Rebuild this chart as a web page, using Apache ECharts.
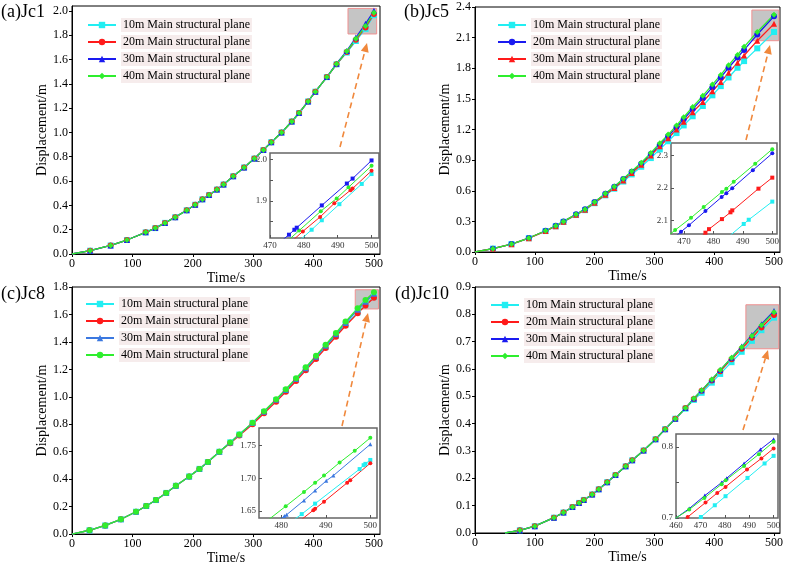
<!DOCTYPE html>
<html>
<head>
<meta charset="utf-8">
<script src="https://cdn.jsdelivr.net/npm/echarts@6/dist/echarts.min.js"></script>
<style>
html, body { margin: 0; padding: 0; background: #fff; }
#chart { width: 786px; height: 566px; }
</style>
</head>
<body>
<div id="chart"></div>
<script>
// series names, same in every panel
var names = ['10m Main structural plane', '20m Main structural plane', '30m Main structural plane', '40m Main structural plane'];
var xTicks = [0, 100, 200, 300, 400, 500];

// (a) Jc1
var timeA = [0, 30, 64, 91, 122, 138, 154, 171, 190, 204, 216, 227, 240, 251, 267, 285, 302, 317, 330, 347, 364, 376, 391, 403, 422, 438, 455, 470, 486, 500];
var a10 = [0, 0.027, 0.07, 0.115, 0.178, 0.213, 0.256, 0.303, 0.36, 0.405, 0.45, 0.485, 0.53, 0.572, 0.64, 0.712, 0.785, 0.855, 0.92, 1.0, 1.09, 1.16, 1.255, 1.335, 1.455, 1.56, 1.657, 1.752, 1.852, 1.965];
var a20 = [0, 0.027, 0.07, 0.115, 0.178, 0.213, 0.256, 0.303, 0.36, 0.405, 0.45, 0.485, 0.53, 0.572, 0.64, 0.712, 0.785, 0.855, 0.92, 1.0, 1.09, 1.16, 1.255, 1.335, 1.455, 1.56, 1.662, 1.762, 1.864, 1.974];
var a30 = [0, 0.027, 0.07, 0.115, 0.178, 0.213, 0.256, 0.303, 0.36, 0.405, 0.45, 0.485, 0.53, 0.572, 0.64, 0.712, 0.785, 0.855, 0.92, 1.0, 1.09, 1.16, 1.255, 1.335, 1.455, 1.565, 1.67, 1.78, 1.893, 2.0];
var a40 = [0, 0.027, 0.07, 0.115, 0.178, 0.213, 0.256, 0.303, 0.36, 0.405, 0.45, 0.485, 0.53, 0.572, 0.64, 0.712, 0.785, 0.855, 0.92, 1.0, 1.09, 1.16, 1.255, 1.335, 1.455, 1.562, 1.667, 1.77, 1.876, 1.985];
var yTicksA = [0, 0.2, 0.4, 0.6, 0.8, 1.0, 1.2, 1.4, 1.6, 1.8, 2.0];
// (a) zoomed
var aZt10 = [470, 482.3, 485.3, 490.5, 497.1, 500];
var aZv10 = [1.74, 1.830, 1.853, 1.892, 1.941, 1.965];
var aZt20 = [470, 479.7, 484.8, 489.0, 493.8, 494.4, 500];
var aZv20 = [1.755, 1.826, 1.861, 1.894, 1.926, 1.930, 1.973];
var aZt30 = [470, 475.6, 477.2, 477.9, 485.3, 492.7, 494.4, 500];
var aZv30 = [1.78, 1.818, 1.830, 1.835, 1.889, 1.942, 1.954, 1.998];
var aZt40 = [470, 478.6, 485.0, 489.7, 493.2, 500];
var aZv40 = [1.765, 1.828, 1.875, 1.906, 1.933, 1.985];

// (b) Jc5
var timeB = [0, 30, 61, 90, 118, 135, 148, 169, 184, 200, 218, 233, 248, 262, 278, 294, 309, 323, 337, 349, 364, 381, 397, 411, 424, 439, 450, 472, 500];
var b10 = [0, 0.033, 0.077, 0.135, 0.205, 0.252, 0.295, 0.362, 0.41, 0.478, 0.555, 0.62, 0.69, 0.76, 0.835, 0.92, 1.005, 1.085, 1.165, 1.24, 1.33, 1.43, 1.535, 1.625, 1.71, 1.805, 1.87, 1.995, 2.155];
var b20 = [0, 0.033, 0.078, 0.137, 0.208, 0.257, 0.3, 0.37, 0.42, 0.49, 0.57, 0.64, 0.715, 0.785, 0.865, 0.96, 1.05, 1.135, 1.222, 1.3, 1.4, 1.505, 1.615, 1.71, 1.805, 1.905, 1.98, 2.13, 2.31];
var b30 = [0, 0.033, 0.077, 0.135, 0.205, 0.253, 0.297, 0.365, 0.413, 0.482, 0.56, 0.628, 0.7, 0.775, 0.855, 0.945, 1.035, 1.115, 1.2, 1.275, 1.37, 1.47, 1.575, 1.665, 1.755, 1.855, 1.925, 2.07, 2.235];
var b40 = [0, 0.033, 0.078, 0.137, 0.208, 0.257, 0.3, 0.37, 0.42, 0.49, 0.572, 0.642, 0.717, 0.79, 0.875, 0.97, 1.065, 1.15, 1.24, 1.32, 1.42, 1.53, 1.64, 1.735, 1.83, 1.93, 2.01, 2.155, 2.325];
var yTicksB = [0, 0.3, 0.6, 0.9, 1.2, 1.5, 1.8, 2.1, 2.4];
var bZt10 = [480, 490.3, 492, 500];
var bZv10 = [2.01, 2.089, 2.102, 2.158];
var bZt20 = [460, 469, 471.7, 477.3, 482.8, 484.4, 486.4, 493.4, 500];
var bZv20 = [1.995, 2.065, 2.085, 2.129, 2.172, 2.184, 2.199, 2.255, 2.307];
var bZt30 = [470, 477.3, 478.5, 482.9, 485.8, 486.4, 495.3, 500];
var bZv30 = [2.005, 2.062, 2.073, 2.104, 2.125, 2.131, 2.198, 2.232];
var bZt40 = [460, 467, 472.4, 476.7, 482.9, 484.4, 486.9, 494.2, 500];
var bZv40 = [2.02, 2.070, 2.108, 2.141, 2.188, 2.198, 2.219, 2.275, 2.32];

// (c) Jc8
var timeC = [0, 29, 55, 81, 106, 123, 139, 156, 172, 194, 211, 225, 244, 262, 277, 299, 318, 338, 354, 371, 387, 404, 420, 437, 453, 473, 486, 500];
var c10 = [0, 0.028, 0.063, 0.108, 0.163, 0.205, 0.248, 0.3, 0.352, 0.42, 0.475, 0.525, 0.6, 0.668, 0.725, 0.81, 0.89, 0.975, 1.047, 1.125, 1.2, 1.283, 1.362, 1.445, 1.525, 1.615, 1.672, 1.728];
var c20 = [0, 0.028, 0.063, 0.108, 0.163, 0.205, 0.248, 0.3, 0.352, 0.42, 0.475, 0.525, 0.6, 0.662, 0.718, 0.8, 0.88, 0.965, 1.037, 1.115, 1.193, 1.275, 1.355, 1.438, 1.518, 1.608, 1.665, 1.722];
var c30 = [0, 0.028, 0.063, 0.108, 0.163, 0.205, 0.248, 0.3, 0.352, 0.42, 0.475, 0.525, 0.6, 0.668, 0.725, 0.81, 0.892, 0.978, 1.05, 1.13, 1.208, 1.292, 1.372, 1.455, 1.538, 1.635, 1.693, 1.751];
var c40 = [0, 0.028, 0.063, 0.108, 0.163, 0.205, 0.248, 0.3, 0.352, 0.42, 0.475, 0.525, 0.6, 0.668, 0.725, 0.812, 0.895, 0.982, 1.055, 1.135, 1.215, 1.3, 1.38, 1.465, 1.548, 1.645, 1.705, 1.762];
var yTicksC = [0, 0.2, 0.4, 0.6, 0.8, 1.0, 1.2, 1.4, 1.6, 1.8];
var cZt10 = [478, 484.6, 487.6, 497.6, 498.5, 498.9, 500];
var cZv10 = [1.612, 1.645, 1.661, 1.714, 1.720, 1.722, 1.728];
var cZt20 = [480, 487.2, 487.6, 489.6, 494.8, 495.5, 500];
var cZv20 = [1.612, 1.651, 1.653, 1.664, 1.693, 1.697, 1.723];
var cZt30 = [475, 480.7, 481.2, 485.1, 487.6, 490.1, 491.7, 500];
var cZv30 = [1.612, 1.642, 1.644, 1.666, 1.681, 1.696, 1.704, 1.752];
var cZt40 = [475, 481.0, 485.1, 487.6, 489.6, 493.1, 496.5, 500];
var cZv40 = [1.625, 1.657, 1.679, 1.693, 1.704, 1.724, 1.742, 1.762];

// (d) Jc10
var timeD = [50, 75, 100, 132, 148, 163, 174, 182, 196, 207, 221, 235, 252, 263, 282, 302, 318, 335, 352, 366, 379, 396, 410, 429, 446, 463, 479, 500];
var d10 = [0, 0.01, 0.025, 0.056, 0.075, 0.095, 0.11, 0.121, 0.141, 0.16, 0.186, 0.212, 0.244, 0.266, 0.302, 0.343, 0.38, 0.418, 0.455, 0.487, 0.513, 0.55, 0.582, 0.625, 0.663, 0.703, 0.742, 0.788];
var d20 = [0, 0.01, 0.025, 0.056, 0.075, 0.095, 0.11, 0.121, 0.141, 0.16, 0.186, 0.212, 0.244, 0.266, 0.302, 0.343, 0.38, 0.418, 0.457, 0.49, 0.52, 0.558, 0.592, 0.636, 0.674, 0.714, 0.752, 0.798];
var d30 = [0, 0.01, 0.025, 0.056, 0.075, 0.095, 0.11, 0.121, 0.141, 0.16, 0.186, 0.212, 0.244, 0.266, 0.302, 0.343, 0.38, 0.418, 0.457, 0.492, 0.522, 0.562, 0.596, 0.641, 0.682, 0.724, 0.764, 0.812];
var d40 = [0, 0.01, 0.025, 0.056, 0.075, 0.095, 0.11, 0.121, 0.141, 0.16, 0.186, 0.212, 0.244, 0.266, 0.302, 0.343, 0.38, 0.418, 0.457, 0.492, 0.522, 0.562, 0.596, 0.641, 0.68, 0.721, 0.76, 0.808];
var yTicksD = [0, 0.1, 0.2, 0.3, 0.4, 0.5, 0.6, 0.7, 0.8, 0.9];
var dZt10 = [465, 470.2, 475.9, 480.3, 489.3, 496.3, 500];
var dZv10 = [0.688, 0.7014, 0.7179, 0.7306, 0.7563, 0.7766, 0.7873];
var dZt20 = [460, 464.8, 472.1, 476.9, 480.3, 489.1, 495.0, 500];
var dZv20 = [0.689, 0.7014, 0.7217, 0.7352, 0.7437, 0.7682, 0.7837, 0.7977];
var dZt30 = [459, 465.4, 471.8, 478.7, 480.8, 487.9, 494.6, 500];
var dZv30 = [0.6975, 0.7132, 0.7315, 0.7498, 0.756, 0.7766, 0.7963, 0.8108];
var dZt40 = [459, 465.4, 471.6, 478.7, 480.4, 487.9, 494.0, 500];
var dZv40 = [0.698, 0.7118, 0.7282, 0.7475, 0.7531, 0.7732, 0.7897, 0.807];

var FONT = '"Liberation Serif", "Times New Roman", serif';
var CYAN = '#22eef2', RED = '#ff1a1a', BLUE = '#1a1af0', BLUE_C = '#3b78e0', GREEN = '#2eee2e';
var ORANGE = '#f0883c';

function pairs(t, v) {
    return t.map(function (x, i) { return [x, v[i]]; });
}

function mainLine(key, idx, gi, t, v, color, symbol, area) {
    var data = pairs(t, v);
    data[0] = { value: data[0], symbol: 'none' };
    var s = {
        type: 'line', name: key + names[idx], xAxisIndex: gi, yAxisIndex: gi,
        data: data, symbol: symbol, symbolSize: 6, showAllSymbol: true,
        lineStyle: { width: 1.3, color: color }, itemStyle: { color: color }
    };
    if (area) {
        s.markArea = {
            silent: true,
            itemStyle: { color: 'rgba(140,140,140,0.5)', borderColor: '#f09090', borderWidth: 1 },
            data: [[{ coord: area[0] }, { coord: area[1] }]]
        };
    }
    return s;
}

function zoomLine(gi, t, v, color, symbol) {
    return {
        type: 'line', name: 'z' + gi + color, xAxisIndex: gi, yAxisIndex: gi,
        data: pairs(t, v), symbol: symbol, symbolSize: 4, showAllSymbol: true, clip: true,
        lineStyle: { width: 1, color: color }, itemStyle: { color: color }
    };
}

function mainX(gi) {
    return {
        type: 'value', gridIndex: gi, min: 0, max: 510,
        name: 'Time/s', nameLocation: 'middle', nameGap: 14,
        nameTextStyle: { fontFamily: FONT, fontSize: 14, color: '#000' },
        axisLine: { show: true, lineStyle: { color: '#000', width: 1 } },
        axisTick: { show: true, length: 3, customValues: xTicks, lineStyle: { color: '#000' } },
        axisLabel: { customValues: xTicks, fontFamily: FONT, fontSize: 12, color: '#000', margin: 4 },
        splitLine: { show: false }
    };
}

function mainY(gi, max, ticks) {
    return {
        type: 'value', gridIndex: gi, min: 0, max: max,
        name: 'Displacement/m', nameLocation: 'middle', nameGap: 21,
        nameTextStyle: { fontFamily: FONT, fontSize: 14, color: '#000' },
        axisLine: { show: true, lineStyle: { color: '#000', width: 1 } },
        axisTick: { show: true, length: 3, customValues: ticks, lineStyle: { color: '#000' } },
        axisLabel: {
            customValues: ticks, fontFamily: FONT, fontSize: 12, color: '#000', margin: 4,
            formatter: function (v) { return v.toFixed(1); }
        },
        splitLine: { show: false }
    };
}

function zoomAxis(gi, min, max, labels, ticks, digits) {
    return {
        type: 'value', gridIndex: gi, min: min, max: max,
        axisLine: { show: false },
        axisTick: { show: true, inside: true, length: 3, customValues: ticks, lineStyle: { color: '#555' } },
        axisLabel: {
            customValues: labels, fontFamily: FONT, fontSize: 9, color: '#333', margin: 3,
            formatter: function (v) { return v.toFixed(digits); }
        },
        splitLine: { show: false }
    };
}

function legend(key, left, top) {
    return {
        orient: 'vertical', left: left, top: top, itemWidth: 28, itemHeight: 8, itemGap: 3,
        data: names.map(function (n) { return key + n; }),
        formatter: function (n) { return n.slice(2); },
        textStyle: {
            fontFamily: FONT, fontSize: 12, color: '#000', lineHeight: 14,
            backgroundColor: 'rgba(235,212,212,0.45)', padding: [0, 2]
        }
    };
}

function arrow(x1, y1, x2, y2) {
    var dx = x2 - x1, dy = y2 - y1, L = Math.sqrt(dx * dx + dy * dy);
    var ux = dx / L, uy = dy / L, h = 9, w = 4;
    var bx = x2 - ux * h, by = y2 - uy * h;
    return [
        { type: 'line', shape: { x1: x1, y1: y1, x2: bx, y2: by }, style: { stroke: ORANGE, lineWidth: 1.6, lineDash: [6, 4] } },
        { type: 'polygon', shape: { points: [[x2, y2], [bx - uy * w, by + ux * w], [bx + uy * w, by - ux * w]] }, style: { fill: ORANGE } }
    ];
}

function label(text, x, y) {
    return { type: 'text', left: x, top: y, style: { text: text, font: '18px ' + FONT, fill: '#000' } };
}

var mainGrid = { show: true, borderColor: '#000', borderWidth: 1 };
var zoomGrid = { show: true, backgroundColor: '#fff', borderColor: '#666', borderWidth: 1.5 };

var option = {
    animation: false,
    backgroundColor: '#fff',
    grid: [
        Object.assign({ left: 72, top: 6, width: 308, height: 248 }, mainGrid),
        Object.assign({ left: 270, top: 153, width: 109, height: 85 }, zoomGrid),
        Object.assign({ left: 475, top: 7, width: 306, height: 245 }, mainGrid),
        Object.assign({ left: 671, top: 143, width: 106, height: 91 }, zoomGrid),
        Object.assign({ left: 72, top: 287, width: 308, height: 248 }, mainGrid),
        Object.assign({ left: 259, top: 428, width: 118, height: 90 }, zoomGrid),
        Object.assign({ left: 475, top: 287, width: 305, height: 246 }, mainGrid),
        Object.assign({ left: 676, top: 434, width: 102, height: 84 }, zoomGrid)
    ],
    xAxis: [
        mainX(0),
        zoomAxis(1, 470, 502.2, [470, 480, 490, 500], [470, 480, 490, 500], 0),
        mainX(2),
        zoomAxis(3, 465.6, 501.6, [470, 480, 490, 500], [470, 480, 490, 500], 0),
        mainX(4),
        zoomAxis(5, 475, 501.5, [480, 490, 500], [480, 490, 500], 0),
        mainX(6),
        zoomAxis(7, 460, 501.8, [460, 470, 480, 490, 500], [460, 470, 480, 490, 500], 0)
    ],
    yAxis: [
        mainY(0, 2.04, yTicksA),
        zoomAxis(1, 1.81, 2.016, [1.9, 2.0], [1.85, 1.9, 1.95, 2.0], 1),
        mainY(2, 2.4, yTicksB),
        zoomAxis(3, 2.058, 2.339, [2.1, 2.2, 2.3], [2.1, 2.2, 2.3], 1),
        mainY(4, 1.8, yTicksC),
        zoomAxis(5, 1.639, 1.777, [1.65, 1.70, 1.75], [1.65, 1.70, 1.75], 2),
        mainY(6, 0.9, yTicksD),
        zoomAxis(7, 0.7, 0.818, [0.7, 0.8], [0.7, 0.75, 0.8], 1)
    ],
    legend: [
        legend('a:', 82, 13),
        legend('b:', 492, 13),
        legend('c:', 80, 292),
        legend('d:', 485, 293)
    ],
    series: [
        mainLine('a:', 0, 0, timeA, a10, CYAN, 'rect', [[457, 1.81], [504.5, 2.02]]),
        mainLine('a:', 1, 0, timeA, a20, RED, 'circle'),
        mainLine('a:', 2, 0, timeA, a30, BLUE, 'triangle'),
        mainLine('a:', 3, 0, timeA, a40, GREEN, 'diamond'),
        zoomLine(1, aZt10, aZv10, CYAN, 'rect'),
        zoomLine(1, aZt20, aZv20, RED, 'circle'),
        zoomLine(1, aZt40, aZv40, GREEN, 'circle'),
        zoomLine(1, aZt30, aZv30, BLUE, 'rect'),

        mainLine('b:', 0, 2, timeB, b10, CYAN, 'rect', [[463, 2.07], [508, 2.37]]),
        mainLine('b:', 1, 2, timeB, b20, BLUE, 'circle'),
        mainLine('b:', 2, 2, timeB, b30, RED, 'triangle'),
        mainLine('b:', 3, 2, timeB, b40, GREEN, 'diamond'),
        zoomLine(3, bZt10, bZv10, CYAN, 'rect'),
        zoomLine(3, bZt20, bZv20, BLUE, 'circle'),
        zoomLine(3, bZt30, bZv30, RED, 'rect'),
        zoomLine(3, bZt40, bZv40, GREEN, 'circle'),

        mainLine('c:', 0, 4, timeC, c10, CYAN, 'rect', [[469, 1.64], [507.5, 1.78]]),
        mainLine('c:', 1, 4, timeC, c20, RED, 'circle'),
        mainLine('c:', 2, 4, timeC, c30, BLUE_C, 'triangle'),
        mainLine('c:', 3, 4, timeC, c40, GREEN, 'circle'),
        zoomLine(5, cZt10, cZv10, CYAN, 'rect'),
        zoomLine(5, cZt20, cZv20, RED, 'circle'),
        zoomLine(5, cZt30, cZv30, BLUE_C, 'triangle'),
        zoomLine(5, cZt40, cZv40, GREEN, 'circle'),

        mainLine('d:', 0, 6, timeD, d10, CYAN, 'rect', [[453, 0.674], [508, 0.835]]),
        mainLine('d:', 1, 6, timeD, d20, RED, 'circle'),
        mainLine('d:', 2, 6, timeD, d30, BLUE, 'triangle'),
        mainLine('d:', 3, 6, timeD, d40, GREEN, 'diamond'),
        zoomLine(7, dZt10, dZv10, CYAN, 'rect'),
        zoomLine(7, dZt20, dZv20, RED, 'circle'),
        zoomLine(7, dZt30, dZv30, BLUE, 'triangle'),
        zoomLine(7, dZt40, dZv40, GREEN, 'circle')
    ],
    graphic: [
        label('(a)Jc1', 1, 3),
        label('(b)Jc5', 404, 3),
        label('(c)Jc8', 1, 285),
        label('(d)Jc10', 395, 285)
    ].concat(arrow(340, 147, 367, 43), arrow(746, 140, 770, 45), arrow(342, 426, 368, 313), arrow(743, 430, 768, 350))
};

var chart = echarts.init(document.getElementById('chart'));
chart.setOption(option);
</script>
</body>
</html>
